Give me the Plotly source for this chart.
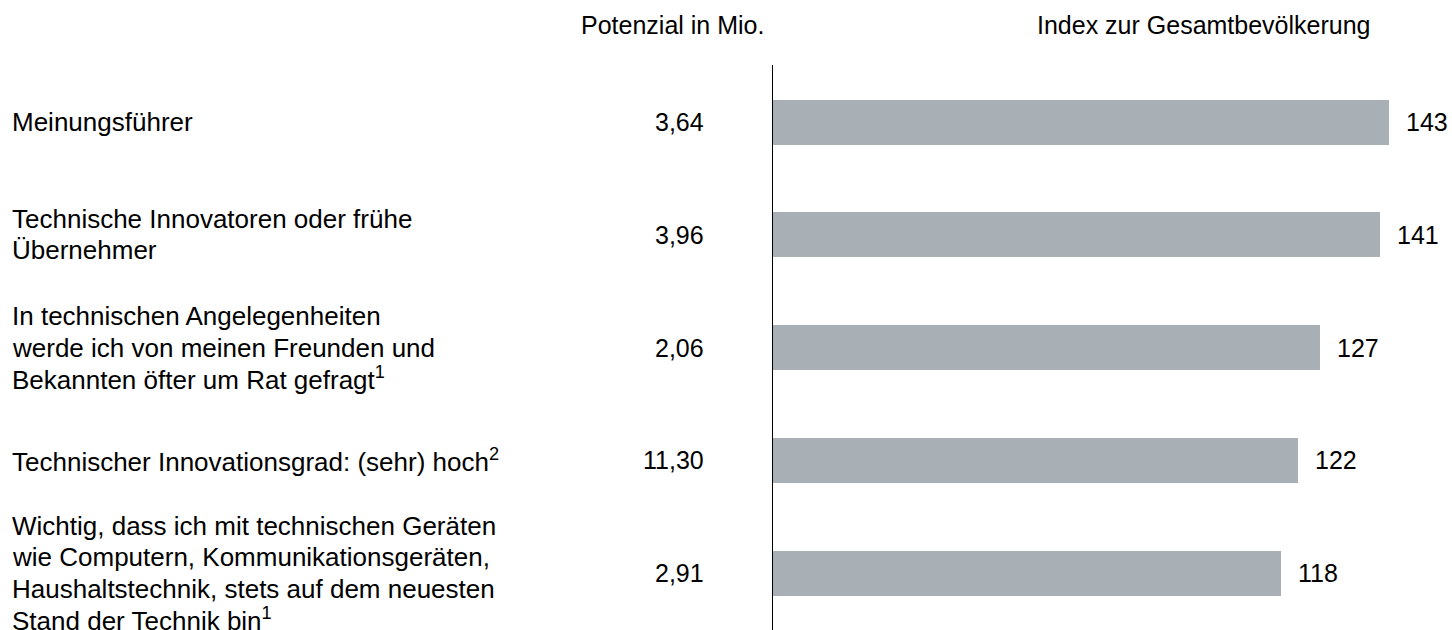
import plotly.graph_objects as go

# ---- data ----
categories = [
    "Meinungsführer",
    "Technische Innovatoren oder frühe<br>Übernehmer",
    "In technischen Angelegenheiten<br>werde ich von meinen Freunden und<br>Bekannten öfter um Rat gefragt<sup>1</sup>",
    "Technischer Innovationsgrad: (sehr) hoch<sup>2</sup>",
    "Wichtig, dass ich mit technischen Geräten<br>wie Computern, Kommunikationsgeräten,<br>Haushaltstechnik, stets auf dem neuesten<br>Stand der Technik bin<sup>1</sup>",
]
potenzial = ["3,64", "3,96", "2,06", "11,30", "2,91"]
index_values = [143, 141, 127, 122, 118]
header_left = "Potenzial in Mio."
header_right = "Index zur Gesamtbevölkerung"

# ---- geometry (pixels) ----
W, H = 1452, 630
FONT = "Liberation Sans, Arial, sans-serif"
FS_LABEL = 26
FS = 25
LINE_PX = 31.2
axis_px = 772
px_per_unit = (1389 - 772) / 143.0
row0_px = 122.0
row_step = 112.75

x_max = (W - axis_px) / px_per_unit
r0 = -row0_px / row_step
r1 = r0 + H / row_step

ypos = list(range(len(categories)))

fig = go.Figure()
fig.add_trace(go.Bar(
    x=index_values, y=ypos, orientation="h",
    marker=dict(color="#A8AFB5", line=dict(width=0)),
    width=45 / row_step, hoverinfo="skip", showlegend=False,
))

font_label = dict(family=FONT, size=FS_LABEL, color="#000")
font = dict(family=FONT, size=FS, color="#000")
annotations = []
for i, (cat, pot, val) in enumerate(zip(categories, potenzial, index_values)):
    lines = cat.split("<br>")
    n = len(lines)
    for k, ln in enumerate(lines):
        annotations.append(dict(
            x=10 / W, xref="paper", y=i, yref="y", text=ln, showarrow=False,
            xanchor="left", yanchor="middle", align="left",
            yshift=-(k - (n - 1) / 2) * LINE_PX, font=font_label,
        ))
    annotations.append(dict(
        x=706 / W, xref="paper", y=i, yref="y", text=pot, showarrow=False,
        xanchor="right", yanchor="middle", align="right", font=font,
    ))
    annotations.append(dict(
        x=val, xref="x", y=i, yref="y", text=str(val), showarrow=False,
        xanchor="left", yanchor="middle", xshift=15, font=font,
    ))

annotations.append(dict(
    x=672 / W, xref="paper", y=1 - 25 / H, yref="paper", text=header_left,
    showarrow=False, xanchor="center", yanchor="middle", font=font,
))
annotations.append(dict(
    x=1204 / W, xref="paper", y=1 - 25 / H, yref="paper", text=header_right,
    showarrow=False, xanchor="center", yanchor="middle", font=font,
))

fig.update_layout(
    width=W, height=H,
    margin=dict(l=0, r=0, t=0, b=0),
    paper_bgcolor="white", plot_bgcolor="white",
    xaxis=dict(domain=[axis_px / W, 1], range=[0, x_max], visible=False, fixedrange=True),
    yaxis=dict(range=[r1, r0], visible=False, fixedrange=True),
    annotations=annotations,
    shapes=[dict(type="line", xref="x", x0=0, x1=0, yref="paper",
                 y0=0, y1=1 - 65 / H, line=dict(color="#000", width=2))],
    bargap=0,
)

fig.write_html(
    "out.html",
    config={"displayModeBar": False},
    post_script="document.body.style.margin='0';document.body.style.overflow='hidden';",
)
